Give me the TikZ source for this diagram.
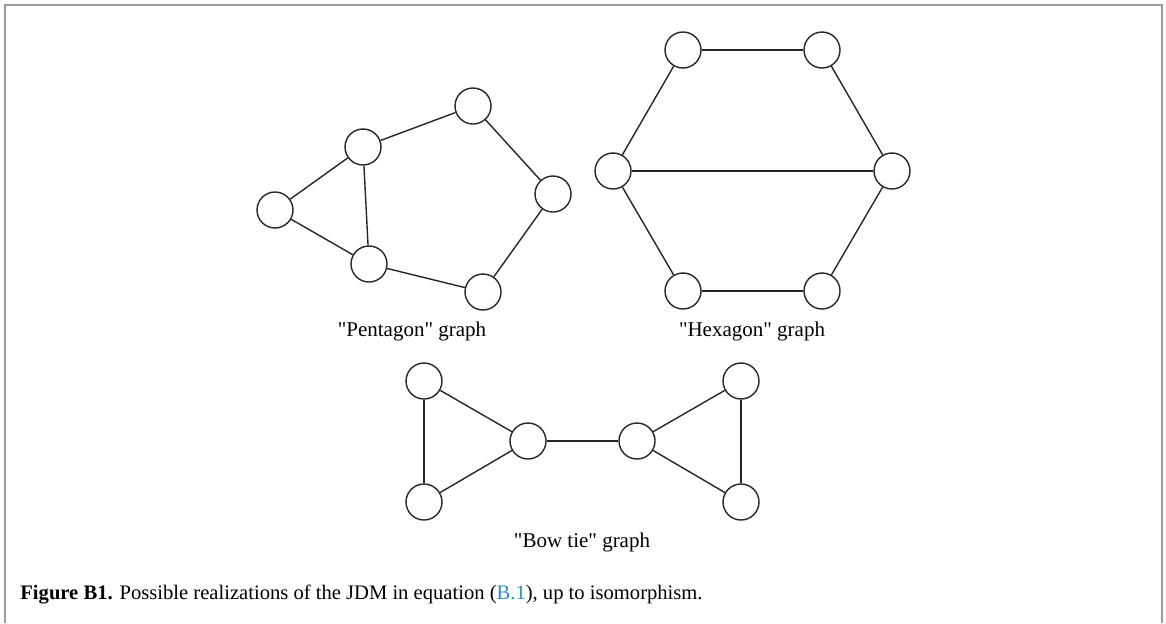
\documentclass[tikz,border=0pt]{standalone}
\usepackage{fontspec}
\setmainfont{Liberation Serif}
\usepackage{tikz}
\definecolor{refblue}{HTML}{2A8CC4}
\definecolor{framegray}{HTML}{9A9A9A}

\begin{document}
\begin{tikzpicture}[x=0.5pt, y=-0.5pt,
        vtx/.style={circle, draw=black!85, line width=0.7pt, minimum size=18pt, inner sep=0pt},
        edge/.style={draw=black!85, line width=0.7pt},
        glabel/.style={font=\fontsize{10.5}{12}\selectfont, anchor=base, inner sep=0pt}]
        \useasboundingbox (0,0) rectangle (1166,623);
        \draw[framegray, line width=1pt] (5,623) -- (5,5) -- (1162,5) -- (1162,623);

        \node[vtx] (P1) at (275,210) {};
        \node[vtx] (P2) at (363,147) {};
        \node[vtx] (P3) at (473,106) {};
        \node[vtx] (P4) at (553,194) {};
        \node[vtx] (P5) at (483,292) {};
        \node[vtx] (P6) at (369,264) {};

        \node[vtx] (H1) at (683,50) {};
        \node[vtx] (H2) at (822,50) {};
        \node[vtx] (H3) at (892,171) {};
        \node[vtx] (H4) at (822,291) {};
        \node[vtx] (H5) at (683,291) {};
        \node[vtx] (H6) at (613,171) {};

        \node[vtx] (B1) at (424,381) {};
        \node[vtx] (B2) at (424,502) {};
        \node[vtx] (B3) at (528,441) {};
        \node[vtx] (B4) at (637,441) {};
        \node[vtx] (B5) at (741,381) {};
        \node[vtx] (B6) at (741,502) {};

        \draw[edge] (P1) -- (P2);
        \draw[edge] (P1) -- (P6);
        \draw[edge] (P2) -- (P6);
        \draw[edge] (P2) -- (P3);
        \draw[edge] (P3) -- (P4);
        \draw[edge] (P4) -- (P5);
        \draw[edge] (P5) -- (P6);

        \draw[edge] (H1) -- (H2);
        \draw[edge] (H2) -- (H3);
        \draw[edge] (H3) -- (H4);
        \draw[edge] (H4) -- (H5);
        \draw[edge] (H5) -- (H6);
        \draw[edge] (H6) -- (H1);
        \draw[edge] (H6) -- (H3);

        \draw[edge] (B1) -- (B2);
        \draw[edge] (B1) -- (B3);
        \draw[edge] (B2) -- (B3);
        \draw[edge] (B3) -- (B4);
        \draw[edge] (B4) -- (B5);
        \draw[edge] (B4) -- (B6);
        \draw[edge] (B5) -- (B6);

        \node[glabel] (lp) at (412,336) {\textquotedbl Pentagon\textquotedbl{} graph};
        \node[glabel] (lh) at (752,336) {\textquotedbl Hexagon\textquotedbl{} graph};
        \node[glabel] (lb) at (582,547) {\textquotedbl Bow tie\textquotedbl{} graph};

        \node[font=\fontsize{10.3}{12}\selectfont, anchor=base west, inner sep=0pt] (cap) at (20,599)
            {\textbf{Figure B1.} Possible realizations of the JDM in equation (\textcolor{refblue}{B.1}), up to isomorphism.};
    \end{tikzpicture}
\end{document}
